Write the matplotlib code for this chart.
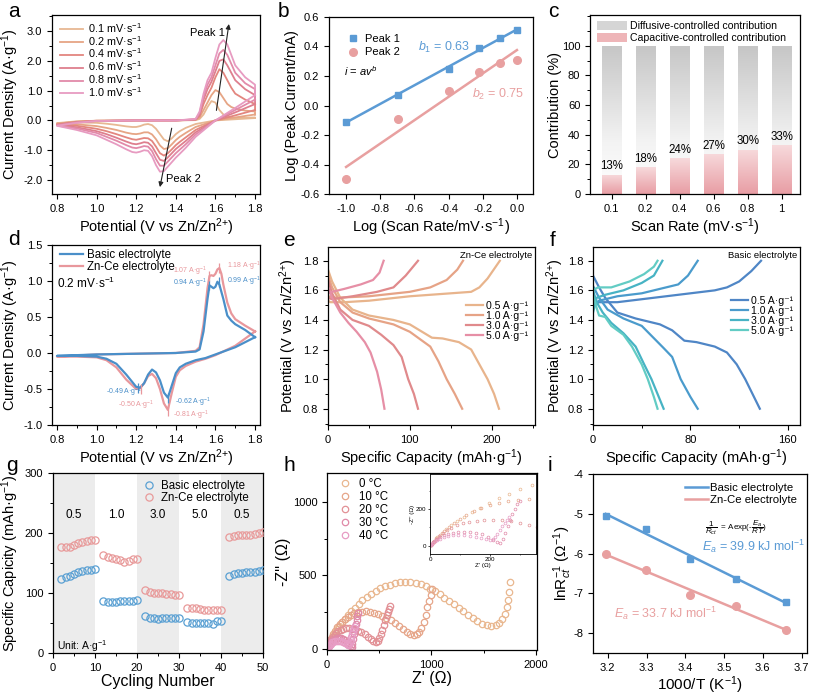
import numpy as np
import matplotlib
matplotlib.use('Agg')
import matplotlib.pyplot as plt
from matplotlib.colors import LinearSegmentedColormap
from matplotlib.patches import Patch
from matplotlib.ticker import MultipleLocator, FormatStrFormatter

plt.rcParams.update({
    'font.family': ['Liberation Sans', 'DejaVu Sans'],
    'mathtext.fontset': 'custom',
    'mathtext.rm': 'Liberation Sans',
    'mathtext.it': 'Liberation Sans:italic',
    'mathtext.bf': 'Liberation Sans:bold',
    'axes.unicode_minus': False,
    'axes.linewidth': 0.9,
    'xtick.direction': 'out', 'ytick.direction': 'out',
    'xtick.major.size': 3.5, 'ytick.major.size': 3.5,
    'xtick.minor.size': 2, 'ytick.minor.size': 2,
    'xtick.major.width': 0.8, 'ytick.major.width': 0.8,
    'xtick.minor.width': 0.7, 'ytick.minor.width': 0.7,
    'xtick.labelsize': 8, 'ytick.labelsize': 8,
    'axes.labelsize': 10.5,
    'legend.fontsize': 8,
})

# ---------------- data ----------------
# (a) CV at different scan rates
a_rates = ['0.1', '0.2', '0.4', '0.6', '0.8', '1.0']
a_colors = ['#e7b893', '#e6a585', '#e3867f', '#de7f8e', '#e28aa9', '#e79bc1']
a_cat_V = [1.80, 1.70, 1.60, 1.50, 1.45, 1.42, 1.40, 1.38, 1.36, 1.34, 1.32, 1.30, 1.28, 1.26,
           1.24, 1.22, 1.20, 1.18, 1.15, 1.10, 1.05, 1.00, 0.90, 0.80]
a_cat_I = [
    [0.08, 0.04, 0.0, -0.12, -0.25, -0.36, -0.46, -0.60, -0.70, -0.64, -0.46, -0.28, -0.16, -0.12,
     -0.14, -0.19, -0.22, -0.22, -0.20, -0.15, -0.11, -0.08, -0.07, -0.09],
    [0.20, 0.10, 0.0, -0.22, -0.42, -0.55, -0.66, -0.80, -0.93, -0.96, -0.84, -0.63, -0.47, -0.40,
     -0.40, -0.44, -0.46, -0.45, -0.41, -0.32, -0.25, -0.19, -0.13, -0.11],
    [0.35, 0.17, 0.0, -0.32, -0.57, -0.72, -0.83, -0.97, -1.10, -1.18, -1.10, -0.88, -0.69, -0.60,
     -0.59, -0.62, -0.65, -0.63, -0.57, -0.46, -0.36, -0.28, -0.18, -0.13],
    [0.55, 0.27, 0.0, -0.40, -0.69, -0.85, -0.96, -1.10, -1.24, -1.36, -1.32, -1.10, -0.87, -0.75,
     -0.73, -0.77, -0.80, -0.78, -0.71, -0.58, -0.46, -0.36, -0.23, -0.15],
    [0.70, 0.35, 0.0, -0.47, -0.80, -0.98, -1.10, -1.24, -1.38, -1.52, -1.52, -1.30, -1.03, -0.88,
     -0.86, -0.90, -0.93, -0.91, -0.83, -0.68, -0.55, -0.42, -0.27, -0.17],
    [0.85, 0.42, 0.0, -0.55, -0.92, -1.12, -1.25, -1.40, -1.55, -1.70, -1.72, -1.50, -1.20, -1.02,
     -1.00, -1.05, -1.08, -1.06, -0.97, -0.80, -0.65, -0.50, -0.32, -0.18],
]
a_an_V = [0.80, 0.90, 1.00, 1.20, 1.40, 1.50, 1.52, 1.54, 1.56, 1.58, 1.60, 1.62, 1.64,
          1.66, 1.68, 1.70, 1.75, 1.80]
a_an_I = [
    [-0.09, -0.03, -0.01, 0.0, 0.0, 0.01, 0.05, 0.20, 0.45, 0.65, 0.60, 0.35, 0.20, 0.12, 0.10, 0.09, 0.09, 0.10],
    [-0.11, -0.04, -0.01, 0.0, 0.0, 0.02, 0.10, 0.35, 0.60, 0.85, 1.02, 0.95, 0.75, 0.55, 0.45, 0.40, 0.33, 0.30],
    [-0.13, -0.05, -0.01, 0.0, 0.0, 0.03, 0.15, 0.55, 0.85, 1.10, 1.45, 1.72, 1.60, 1.35, 1.10, 0.90, 0.70, 0.55],
    [-0.15, -0.06, -0.02, 0.0, 0.0, 0.03, 0.20, 0.70, 1.05, 1.30, 1.65, 2.00, 2.05, 1.85, 1.60, 1.35, 1.05, 0.85],
    [-0.17, -0.07, -0.02, 0.0, 0.0, 0.04, 0.25, 0.80, 1.20, 1.45, 1.85, 2.25, 2.37, 2.20, 1.90, 1.60, 1.25, 1.05],
    [-0.18, -0.08, -0.02, 0.0, 0.0, 0.05, 0.30, 0.90, 1.35, 1.60, 2.10, 2.55, 2.70, 2.55, 2.20, 1.85, 1.45, 1.20],
]

# (b) log peak current vs log scan rate
b_logv = [-1.0, -0.699, -0.398, -0.222, -0.097, 0.0]
b_peak1 = [-0.11, 0.07, 0.25, 0.39, 0.46, 0.51]
b_peak2 = [-0.50, -0.09, 0.10, 0.23, 0.29, 0.31]

# (c) contribution
c_rates = ['0.1', '0.2', '0.4', '0.6', '0.8', '1']
c_cap = [13, 18, 24, 27, 30, 33]

# (d) CV comparison at 0.2 mV/s
d_cat_V = [1.80, 1.70, 1.60, 1.55, 1.50, 1.45, 1.42, 1.40, 1.38, 1.36, 1.34, 1.32, 1.30,
           1.28, 1.26, 1.24, 1.22, 1.20, 1.15, 1.10, 1.05, 1.00, 0.90, 0.80]
d_cat_basic = [0.22, 0.08, -0.02, -0.07, -0.10, -0.15, -0.20, -0.28, -0.45, -0.62, -0.55, -0.38,
               -0.27, -0.23, -0.30, -0.42, -0.48, -0.47, -0.30, -0.15, -0.08, -0.05, -0.04, -0.04]
d_cat_znce = [0.30, 0.10, -0.03, -0.08, -0.12, -0.18, -0.24, -0.33, -0.55, -0.79, -0.70, -0.50,
              -0.35, -0.29, -0.32, -0.42, -0.49, -0.50, -0.37, -0.20, -0.10, -0.06, -0.05, -0.05]
d_an_V = [0.80, 1.00, 1.20, 1.40, 1.50, 1.52, 1.54, 1.56, 1.57, 1.58, 1.59, 1.60, 1.61, 1.62,
          1.63, 1.64, 1.66, 1.68, 1.70, 1.75, 1.80]
d_an_basic = [-0.04, -0.02, -0.01, 0.0, 0.02, 0.05, 0.30, 0.75, 0.94, 0.92, 0.90, 0.92, 0.99, 0.95,
              0.85, 0.75, 0.52, 0.45, 0.40, 0.32, 0.22]
d_an_znce = [-0.05, -0.02, -0.01, 0.0, 0.03, 0.08, 0.40, 0.90, 1.07, 1.08, 1.07, 1.10, 1.16, 1.18,
             1.10, 0.95, 0.70, 0.55, 0.47, 0.38, 0.30]

# (e) GCD Zn-Ce electrolyte
e_labels = ['0.5', '1.0', '3.0', '5.0']
e_colors = ['#e8b48c', '#e6a386', '#e08a8c', '#e68fa6']
e_chg_q = [[0, 3, 20, 50, 100, 150, 175, 185, 195, 210],
           [0, 10, 50, 100, 125, 145, 158, 165],
           [0, 5, 30, 60, 80, 95, 110],
           [0, 5, 20, 40, 55, 63, 68]]
e_chg_v = [[1.53, 1.52, 1.52, 1.53, 1.56, 1.58, 1.59, 1.62, 1.68, 1.80],
           [1.56, 1.55, 1.56, 1.59, 1.62, 1.67, 1.74, 1.80],
           [1.55, 1.54, 1.56, 1.59, 1.62, 1.70, 1.80],
           [1.58, 1.59, 1.61, 1.64, 1.67, 1.72, 1.80]]
e_dis_q = [[0, 5, 15, 30, 50, 80, 100, 115, 127, 140, 160, 175, 185, 195, 203, 209],
           [0, 5, 15, 30, 50, 80, 100, 115, 125, 135, 145, 155, 164],
           [0, 5, 15, 30, 50, 65, 80, 90, 98, 105, 110],
           [0, 5, 15, 25, 35, 45, 52, 60, 65, 69]]
e_dis_v = [[1.74, 1.66, 1.55, 1.47, 1.43, 1.40, 1.37, 1.32, 1.28, 1.275, 1.25, 1.20, 1.10, 1.00, 0.90, 0.80],
           [1.70, 1.62, 1.52, 1.45, 1.41, 1.37, 1.32, 1.26, 1.22, 1.12, 1.00, 0.90, 0.80],
           [1.67, 1.58, 1.47, 1.40, 1.36, 1.30, 1.23, 1.15, 1.00, 0.90, 0.80],
           [1.62, 1.55, 1.45, 1.38, 1.32, 1.25, 1.18, 1.05, 0.93, 0.80]]

# (f) GCD Basic electrolyte
f_colors = ['#4f86c6', '#4a9bcc', '#47b3c4', '#62ccc4']
f_chg_q = [[0, 5, 20, 50, 80, 100, 110, 120, 130, 138],
           [0, 5, 20, 40, 55, 70, 78, 86],
           [0, 3, 10, 25, 40, 50, 57],
           [0, 4, 15, 30, 42, 50, 53]]
f_chg_v = [[1.50, 1.52, 1.52, 1.55, 1.58, 1.60, 1.62, 1.66, 1.73, 1.80],
           [1.50, 1.53, 1.56, 1.58, 1.61, 1.64, 1.70, 1.80],
           [1.45, 1.55, 1.57, 1.60, 1.65, 1.70, 1.80],
           [1.60, 1.62, 1.62, 1.66, 1.71, 1.76, 1.80]]
f_dis_q = [[0, 5, 10, 20, 35, 55, 65, 75, 85, 100, 110, 118, 125, 131, 137],
           [0, 5, 12, 25, 40, 52, 58, 65, 72, 80, 86],
           [0, 3, 8, 15, 25, 35, 42, 48, 54, 58],
           [0, 3, 5, 10, 15, 25, 32, 40, 45, 50, 53]]
f_dis_v = [[1.70, 1.62, 1.55, 1.45, 1.41, 1.37, 1.33, 1.26, 1.25, 1.22, 1.18, 1.10, 1.00, 0.90, 0.80],
           [1.63, 1.55, 1.47, 1.41, 1.36, 1.26, 1.21, 1.15, 1.00, 0.88, 0.80],
           [1.60, 1.52, 1.45, 1.38, 1.31, 1.22, 1.10, 1.00, 0.88, 0.80],
           [1.57, 1.48, 1.43, 1.42, 1.36, 1.30, 1.22, 1.10, 1.00, 0.88, 0.80]]

# (g) rate performance
g_cycles = [2, 3, 4, 5, 6, 7, 8, 9, 10, 12, 13, 14, 15, 16, 17, 18, 19, 20,
            22, 23, 24, 25, 26, 27, 28, 29, 30, 32, 33, 34, 35, 36, 37, 38, 39, 40,
            42, 43, 44, 45, 46, 47, 48, 49, 50]
g_basic = [124, 126, 128, 132, 135, 137, 138, 139, 140,
           86, 85, 85, 85, 86, 86, 86, 87, 88,
           61, 59, 58, 57, 59, 58, 58, 59, 59,
           51, 50, 50, 50, 50, 50, 49, 54, 53,
           128, 131, 133, 134, 135, 135, 135, 136, 138]
g_znce = [177, 177, 177, 180, 183, 185, 187, 188, 189,
          163, 160, 159, 157, 155, 152, 154, 157, 157,
          105, 101, 100, 100, 100, 99, 98, 97, 96,
          75, 75, 75, 73, 72, 71, 71, 71, 72,
          193, 195, 196, 196, 197, 197, 198, 200, 202]
g_rate_labels = ['0.5', '1.0', '3.0', '5.0', '0.5']

# (h) EIS
h_temps = ['0 °C', '10 °C', '20 °C', '30 °C', '40 °C']
h_colors = ['#e9b78f', '#e6a68a', '#e29196', '#e08aa8', '#e79cc4']
h_zre = [
    [3, 12, 25, 40, 55, 72, 92, 115, 140, 168, 198, 230, 265, 302, 340, 380, 422, 465, 510, 555,
     602, 650, 700, 750, 800, 850, 898, 945, 990, 1035, 1080, 1125, 1170, 1215, 1260, 1305, 1350,
     1395, 1440, 1485, 1530, 1575, 1615, 1650, 1680, 1705, 1722, 1735, 1745, 1752],
    [3, 10, 20, 32, 46, 62, 80, 100, 122, 146, 172, 200, 230, 262, 296, 332, 370, 410, 450, 490,
     530, 570, 610, 650, 690, 728, 765, 800, 830, 858, 882, 905, 925, 945, 962, 978, 992, 1005],
    [2, 6, 12, 20, 30, 42, 56, 72, 90, 110, 132, 156, 182, 210, 240, 270, 300, 330, 360, 390, 418,
     444, 465, 484, 500, 515, 530, 545, 560, 572, 584, 594, 602],
    [2, 5, 10, 16, 24, 34, 46, 60, 76, 94, 114, 134, 154, 174, 194, 212, 226, 236, 244, 252, 260,
     268, 276, 284, 292, 300],
    [2, 5, 10, 16, 24, 34, 46, 60, 76, 94, 114, 134, 154, 172, 188, 200, 210, 218, 226, 234, 242,
     250, 258, 266],
]
h_zim = [
    [5, 22, 45, 68, 90, 112, 135, 158, 182, 207, 232, 257, 282, 308, 332, 355, 376, 395, 412, 426,
     438, 447, 453, 455, 453, 448, 439, 426, 410, 392, 372, 350, 327, 304, 280, 256, 232, 210,
     190, 174, 163, 160, 165, 180, 205, 240, 285, 335, 390, 455],
    [5, 20, 40, 60, 82, 104, 126, 148, 168, 188, 205, 220, 233, 243, 250, 255, 256, 254, 249, 240,
     228, 213, 196, 177, 157, 137, 118, 104, 98, 102, 118, 145, 185, 235, 285, 330, 370, 405],
    [3, 12, 24, 38, 53, 68, 83, 97, 110, 121, 130, 137, 141, 142, 140, 135, 126, 114, 100, 84, 68,
     56, 52, 58, 75, 100, 130, 165, 200, 230, 255, 275, 290],
    [2, 9, 18, 28, 38, 48, 57, 65, 71, 75, 76, 75, 70, 62, 48, 32, 20, 14, 35, 70, 105, 140,
     172, 200, 225, 245],
    [2, 8, 15, 23, 31, 39, 46, 52, 56, 58, 57, 53, 47, 40, 34, 30, 36, 48, 65, 85, 105, 125,
     142, 158],
]

# (i) Arrhenius
i_invT = [3.195, 3.299, 3.411, 3.532, 3.661]
i_basic = [-5.05, -5.38, -6.14, -6.63, -7.23]
i_znce = [-6.00, -6.41, -7.05, -7.32, -7.92]

BLUE = '#5b9bd5'
PINK = '#e8a0a0'

# ---------------- figure ----------------
W, H = 813, 695
fig = plt.figure(figsize=(W / 100, H / 100), dpi=100)


def ax_px(l, t, r, b):
    ax = fig.add_axes([l / W, 1 - b / H, (r - l) / W, (b - t) / H])
    ax.tick_params(top=False, right=False)
    return ax


def ylab_at(ax, x_px):
    pos = ax.get_position()
    ax.yaxis.set_label_coords(x_px / W, pos.y0 + pos.height / 2, transform=fig.transFigure)


def letter(x, y, s):
    fig.text(x / W, 1 - y / H, s, fontsize=15, va='top', ha='left')


AG = 'A·g$^{-1}$'
AG_U = 'A·g\u207b\u00b9'
POT = 'Potential (V vs Zn/Zn$^{2{+}}$)'

# ----- (a)
ax = ax_px(52, 15, 260, 194)
for k in range(6):
    xs = a_cat_V + a_an_V + [a_cat_V[0]]
    ys = a_cat_I[k] + a_an_I[k] + [a_cat_I[k][0]]
    ax.plot(xs, ys, color=a_colors[k], lw=1.3, label=a_rates[k] + ' mV·s$^{-1}$',
            solid_joinstyle='round')
ax.set_xlim(0.775, 1.825)
ax.set_ylim(-2.47, 3.54)
ax.xaxis.set_major_locator(MultipleLocator(0.2))
ax.xaxis.set_minor_locator(MultipleLocator(0.1))
ax.yaxis.set_major_locator(MultipleLocator(1.0))
ax.yaxis.set_minor_locator(MultipleLocator(0.5))
ax.xaxis.set_major_formatter(FormatStrFormatter('%.1f'))
ax.yaxis.set_major_formatter(FormatStrFormatter('%.1f'))
ax.set_xlabel(POT, labelpad=2)
ax.set_ylabel('Current Density (' + AG + ')')
ylab_at(ax, 21)
ax.legend(loc='upper left', bbox_to_anchor=(0.0, 1.01), frameon=False, fontsize=7.8,
          handlelength=2.2, labelspacing=-0.08, handletextpad=0.4, borderaxespad=0.3)
ax.annotate('', xy=(1.67, 3.33), xytext=(1.603, 0.245),
            arrowprops=dict(arrowstyle='-|>', color='#222222', lw=0.8, mutation_scale=7))
ax.annotate('', xy=(1.317, -2.33), xytext=(1.382, -0.17),
            arrowprops=dict(arrowstyle='-|>', color='#222222', lw=0.8, mutation_scale=7))
ax.text(1.47, 2.95, 'Peak 1', fontsize=8, va='center')
ax.text(1.35, -1.98, 'Peak 2', fontsize=8, va='center')
letter(8, 2, 'a')

# ----- (b)
ax = ax_px(329, 17, 533, 194)
ax.plot(b_logv, b_peak1, 's', color=BLUE, ms=5, label='Peak 1', zorder=3)
ax.plot(b_logv, b_peak2, 'o', color=PINK, ms=5.5, label='Peak 2', zorder=3)
xl = np.array([b_logv[0], b_logv[-1]])
p1 = np.polyfit(b_logv, b_peak1, 1)
p2 = np.polyfit(b_logv, b_peak2, 1)
ax.plot(xl, np.polyval(p1, xl), color=BLUE, lw=1.8)
ax.plot(xl, np.polyval(p2, xl), color=PINK, lw=1.8)
ax.set_xlim(-1.1, 0.094)
ax.set_ylim(-0.6, 0.6)
ax.xaxis.set_major_locator(MultipleLocator(0.2))
ax.yaxis.set_major_locator(MultipleLocator(0.2))
ax.xaxis.set_major_formatter(FormatStrFormatter('%.1f'))
ax.yaxis.set_major_formatter(FormatStrFormatter('%.1f'))
ax.set_xlabel('Log (Scan Rate/mV·s$^{-1}$)', labelpad=2)
ax.set_ylabel('Log (Peak Current/mA)')
ylab_at(ax, 299)
ax.legend(loc='upper left', bbox_to_anchor=(0.04, 0.96), frameon=False, fontsize=8,
          handlelength=1.0, labelspacing=0.3, handletextpad=0.6)
ax.text(-0.58, 0.394, '$b_1$ = 0.63', color=BLUE, fontsize=9, va='center')
ax.text(-0.265, 0.077, '$b_2$ = 0.75', color=PINK, fontsize=9, va='center')
ax.text(-1.01, 0.235, '$i$ = $av^b$', color='k', fontsize=8, va='center')
letter(278, 2, 'b')

# ----- (c)
ax = ax_px(590, 15, 800, 194)
xc = np.arange(len(c_rates))
bw = 0.56
bars_cap = ax.bar(xc, c_cap, width=bw, color='none', edgecolor='none')
bars_dif = ax.bar(xc, [100 - v for v in c_cap], bottom=c_cap, width=bw, color='none',
                  edgecolor='none')
pink_cmap = LinearSegmentedColormap.from_list('pk', ['#e89da4', '#f7dadc'])
gray_cmap = LinearSegmentedColormap.from_list('gy', [(0, '#ffffff'), (0.35, '#f3f3f3'),
                                                     (1, '#c6c6c6')])
grad = np.linspace(0, 1, 256).reshape(-1, 1)
for bc, bd in zip(bars_cap, bars_dif):
    x0 = bc.get_x()
    im = ax.imshow(grad, extent=[x0, x0 + bw, 0, bc.get_height()], origin='lower',
                   aspect='auto', cmap=pink_cmap, zorder=2)
    im.set_clip_path(bc)
    im2 = ax.imshow(grad, extent=[x0, x0 + bw, 0, 100], origin='lower',
                    aspect='auto', cmap=gray_cmap, zorder=2)
    im2.set_clip_path(bd)
for xi, v in zip(xc, c_cap):
    ax.text(xi, v + 1.5, f'{v}%', ha='center', va='bottom', fontsize=8.3, zorder=4)
ax.set_xlim(-0.64, 5.54)
ax.set_ylim(0, 120.7)
ax.set_xticks(xc)
ax.set_xticklabels(c_rates)
ax.set_yticks([0, 20, 40, 60, 80, 100])
ax.yaxis.set_minor_locator(MultipleLocator(10))
ax.set_xlabel('Scan Rate (mV·s$^{-1}$)', labelpad=2)
ax.set_ylabel('Contribution (%)')
ylab_at(ax, 562)
ax.legend(handles=[Patch(facecolor='#d5d5d5', edgecolor='none', label='Diffusive-controlled contribution'),
                   Patch(facecolor='#eeb5b8', edgecolor='none', label='Capacitive-controlled contribution')],
          loc='upper left', bbox_to_anchor=(0.0, 1.01), frameon=False, fontsize=7.6,
          handlelength=2.8, handleheight=1.0, labelspacing=0.15, handletextpad=0.3,
          borderaxespad=0.3)
letter(548, 2, 'c')

# ----- (d)
DBLUE = '#4a8fc9'
DPINK = '#e8979c'
ax = ax_px(52, 245, 260, 425)
ax.plot(d_cat_V + d_an_V + [d_cat_V[0]], d_cat_basic + d_an_basic + [d_cat_basic[0]],
        color=DBLUE, lw=1.6, label='Basic electrolyte', zorder=3)
ax.plot(d_cat_V + d_an_V + [d_cat_V[0]], d_cat_znce + d_an_znce + [d_cat_znce[0]],
        color=DPINK, lw=1.6, label='Zn-Ce electrolyte', zorder=2)
d_marks = [(1.57, 0.94, DBLUE), (1.62, 0.99, DBLUE), (1.57, 1.07, DPINK), (1.62, 1.18, DPINK),
           (1.21, -0.49, DBLUE), (1.225, -0.50, DPINK), (1.36, -0.62, DBLUE), (1.36, -0.81, DPINK)]
for mx, my, mc in d_marks:
    ax.plot([mx], [my], marker='|', color=mc, ms=7, mew=0.9, zorder=4)
fs = 5.0
ax.text(1.556, 1.14, '1.07 ' + AG, color=DPINK, fontsize=fs, ha='right', va='center')
ax.text(1.657, 1.21, '1.18 ' + AG, color=DPINK, fontsize=fs, ha='left', va='center')
ax.text(1.556, 0.97, '0.94 ' + AG, color=DBLUE, fontsize=fs, ha='right', va='center')
ax.text(1.657, 0.99, '0.99 ' + AG, color=DBLUE, fontsize=fs, ha='left', va='center')
ax.text(1.047, -0.55, '-0.49 ' + AG, color=DBLUE, fontsize=fs, ha='left', va='center')
ax.text(1.11, -0.725, '-0.50 ' + AG, color=DPINK, fontsize=fs, ha='left', va='center')
ax.text(1.396, -0.69, '-0.62 ' + AG, color=DBLUE, fontsize=fs, ha='left', va='center')
ax.text(1.388, -0.865, '-0.81 ' + AG, color=DPINK, fontsize=fs, ha='left', va='center')
ax.text(0.80, 0.97, '0.2 mV·s$^{-1}$', fontsize=8.5, va='center')
ax.set_xlim(0.775, 1.825)
ax.set_ylim(-1.0, 1.5)
ax.xaxis.set_major_locator(MultipleLocator(0.2))
ax.xaxis.set_minor_locator(MultipleLocator(0.1))
ax.yaxis.set_major_locator(MultipleLocator(0.5))
ax.yaxis.set_minor_locator(MultipleLocator(0.25))
ax.xaxis.set_major_formatter(FormatStrFormatter('%.1f'))
ax.yaxis.set_major_formatter(FormatStrFormatter('%.1f'))
ax.set_xlabel(POT, labelpad=2)
ax.set_ylabel('Current Density (' + AG + ')')
ylab_at(ax, 21)
ax.legend(loc='upper left', bbox_to_anchor=(0.0, 1.02), frameon=False, fontsize=8.3,
          handlelength=2.0, labelspacing=0.0, handletextpad=0.3, borderaxespad=0.3)
letter(8, 230, 'd')


def gcd_panel(ax, chg_q, chg_v, dis_q, dis_v, colors, title, leg_top):
    for k in range(4):
        ax.plot(chg_q[k], chg_v[k], color=colors[k], lw=1.6, label=e_labels[k] + ' ' + AG_U)
        ax.plot(dis_q[k], dis_v[k], color=colors[k], lw=1.6)
    ax.set_ylim(0.69, 1.893)
    ax.yaxis.set_major_locator(MultipleLocator(0.2))
    ax.yaxis.set_minor_locator(MultipleLocator(0.1))
    ax.yaxis.set_major_formatter(FormatStrFormatter('%.1f'))
    ax.set_xlabel('Specific Capacity (mAh·g$^{-1}$)', labelpad=2)
    ax.set_ylabel(POT)
    ax.text(0.985, 0.955, title, transform=ax.transAxes, ha='right', va='center', fontsize=6.8)
    ax.legend(loc='upper left', bbox_to_anchor=(0.645, leg_top), frameon=False, fontsize=7.6,
              handlelength=1.6, labelspacing=0.0, handletextpad=0.3, borderaxespad=0.0)


# ----- (e)
ax = ax_px(328, 247, 535, 425)
gcd_panel(ax, e_chg_q, e_chg_v, e_dis_q, e_dis_v, e_colors, 'Zn-Ce electrolyte', 0.72)
ax.set_xlim(0, 253)
ax.xaxis.set_major_locator(MultipleLocator(100))
ax.xaxis.set_minor_locator(MultipleLocator(50))
ylab_at(ax, 299)
letter(283, 231, 'e')

# ----- (f)
ax = ax_px(593, 247, 800, 425)
gcd_panel(ax, f_chg_q, f_chg_v, f_dis_q, f_dis_v, f_colors, 'Basic electrolyte', 0.75)
ax.set_xlim(0, 170)
ax.xaxis.set_major_locator(MultipleLocator(80))
ax.xaxis.set_minor_locator(MultipleLocator(40))
ylab_at(ax, 566)
letter(550, 231, 'f')

# ----- (g)
ax = ax_px(53, 473, 263, 653)
for s in (0, 20, 40):
    ax.axvspan(s, s + 10, color='#ececec', lw=0, zorder=0)
ax.plot(g_cycles, g_basic, 'o', mfc='none', mec='#5aa0d3', mew=0.9, ms=5.2,
        label='Basic electrolyte', zorder=3)
ax.plot(g_cycles, g_znce, 'o', mfc='none', mec='#e89a9a', mew=0.9, ms=5.2,
        label='Zn-Ce electrolyte', zorder=3)
for j, lab in enumerate(g_rate_labels):
    ax.text(5 + 10 * j, 230, lab, ha='center', va='center', fontsize=8.5)
ax.text(1.0, 12, 'Unit: ' + AG, fontsize=7.5, va='center')
ax.set_xlim(0, 50)
ax.set_ylim(0, 300)
ax.xaxis.set_major_locator(MultipleLocator(10))
ax.xaxis.set_minor_locator(MultipleLocator(5))
ax.yaxis.set_major_locator(MultipleLocator(100))
ax.yaxis.set_minor_locator(MultipleLocator(50))
ax.set_xlabel('Cycling Number', labelpad=1, fontsize=11.5)
ax.set_ylabel('Specific Capicity (mAh·g$^{-1}$)')
ylab_at(ax, 21)
ax.legend(loc='upper left', bbox_to_anchor=(0.39, 1.0), frameon=False, fontsize=8.3,
          handlelength=1.2, labelspacing=0.05, handletextpad=0.5, borderaxespad=0.2)
letter(6, 456, 'g')

# ----- (h)
ax = ax_px(327, 473, 537, 650)
for k in range(5):
    ax.plot(h_zre[k], h_zim[k], 'o', mfc='none', mec=h_colors[k], mew=0.9, ms=4.6,
            label=h_temps[k])
ax.set_xlim(0, 2012)
ax.set_ylim(-5, 1194)
ax.xaxis.set_major_locator(MultipleLocator(1000))
ax.xaxis.set_minor_locator(MultipleLocator(500))
ax.yaxis.set_major_locator(MultipleLocator(500))
ax.yaxis.set_minor_locator(MultipleLocator(250))
ax.set_xlabel("Z' (Ω)", labelpad=1, fontsize=11.5)
ax.set_ylabel("-Z'' (Ω)", fontsize=11.5)
ylab_at(ax, 291)
ax.legend(loc='upper left', bbox_to_anchor=(0.02, 1.01), frameon=False, fontsize=8.3,
          handlelength=1.2, labelspacing=0.08, handletextpad=0.6, borderaxespad=0.2)
letter(283, 456, 'h')

axi = ax_px(430, 474, 536, 554)
for k in range(5):
    axi.plot(h_zre[k], h_zim[k], 'o', mfc='none', mec=h_colors[k], mew=0.5, ms=2.0)
axi.set_xlim(0, 355)
axi.set_ylim(-45, 390)
axi.set_xticks([0, 200])
axi.set_yticks([0, 200])
axi.xaxis.set_minor_locator(MultipleLocator(100))
axi.yaxis.set_minor_locator(MultipleLocator(100))
axi.tick_params(labelsize=4.5, length=1.5, width=0.5, pad=1)
axi.tick_params(which='minor', length=1, width=0.4)
axi.set_xlabel("Z' (Ω)", fontsize=4.5, labelpad=0.5)
axi.set_ylabel("-Z'' (Ω)", fontsize=4.5, labelpad=0.5)
for sp in axi.spines.values():
    sp.set_linewidth(0.6)

# ----- (i)
ax = ax_px(593, 474, 807, 653)
pb = np.polyfit(i_invT, i_basic, 1)
pz = np.polyfit(i_invT, i_znce, 1)
xt = np.array([i_invT[0], i_invT[-1]])
ax.plot(xt, np.polyval(pb, xt), color=BLUE, lw=1.8, label='Basic electrolyte')
ax.plot(xt, np.polyval(pz, xt), color=PINK, lw=1.8, label='Zn-Ce electrolyte')
ax.plot(i_invT, i_basic, 's', color=BLUE, ms=5, zorder=3)
ax.plot(i_invT, i_znce, 'o', color=PINK, ms=5.5, zorder=3)
ax.set_xlim(3.162, 3.714)
ax.set_ylim(-8.5, -4.0)
ax.xaxis.set_major_locator(MultipleLocator(0.1))
ax.yaxis.set_major_locator(MultipleLocator(1))
ax.xaxis.set_major_formatter(FormatStrFormatter('%.1f'))
ax.set_xlabel('1000/T (K$^{-1}$)', labelpad=1, fontsize=11)
ax.set_ylabel('lnR$_{ct}^{-1}$ (Ω$^{-1}$)', fontsize=11)
ylab_at(ax, 574)
ax.text(3.45, -5.35, r'$\dfrac{1}{R_{ct}}$  = Aexp(-$\dfrac{E_a}{RT}$)', fontsize=5.8,
        va='center')
ax.text(3.444, -5.83, '$E_a$ = 39.9 kJ mol$^{-1}$', color=BLUE, fontsize=9, va='center')
ax.text(3.216, -7.5, '$E_a$ = 33.7 kJ mol$^{-1}$', color=PINK, fontsize=9, va='center')
ax.legend(loc='upper left', bbox_to_anchor=(0.40, 0.99), frameon=False, fontsize=8.2,
          handlelength=2.0, labelspacing=0.25, handletextpad=0.2, borderaxespad=0.2)
letter(548, 456, 'i')

fig.savefig('out.png', dpi=100)
